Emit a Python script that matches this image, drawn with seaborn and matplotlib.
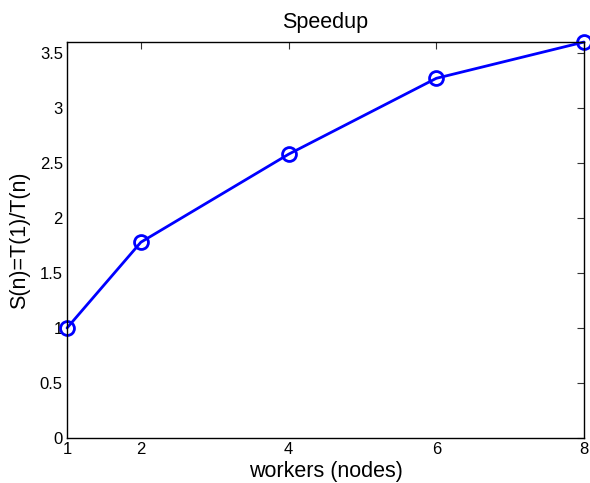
import matplotlib
matplotlib.use("Agg")
import matplotlib.pyplot as plt
import seaborn as sns
import pandas as pd

workers = [1, 2, 4, 6, 8]
speedup = [1.0, 1.78, 2.58, 3.27, 3.6]
x_ticks = [1, 2, 4, 6, 8]
y_ticks = [0, 0.5, 1, 1.5, 2, 2.5, 3, 3.5]
y_tick_labels = ["0", "0.5", "1", "1.5", "2", "2.5", "3", "3.5"]

sns.set_style("white")
plt.rcParams["font.family"] = ["Liberation Sans", "DejaVu Sans"]
plt.rcParams["text.color"] = "black"
plt.rcParams["axes.labelcolor"] = "black"
plt.rcParams["xtick.color"] = "black"
plt.rcParams["ytick.color"] = "black"

df = pd.DataFrame({"workers": workers, "speedup": speedup})

fig = plt.figure(figsize=(5.9, 4.83), dpi=100)
ax = fig.add_axes([0.1136, 0.0932, 0.8762, 0.8198])

sns.lineplot(data=df, x="workers", y="speedup", ax=ax, color="#0000ff",
             linewidth=2, marker="o", markersize=10, markerfacecolor="none",
             markeredgecolor="#0000ff", markeredgewidth=2)

ax.set_xlim(1, 8)
ax.set_ylim(0, 3.6)
ax.set_xticks(x_ticks)
ax.set_xticklabels([str(t) for t in x_ticks])
ax.set_yticks(y_ticks)
ax.set_yticklabels(y_tick_labels)

for s in ax.spines.values():
    s.set_visible(True)
    s.set_color("black")
    s.set_linewidth(1.0)

ax.tick_params(axis="both", direction="in", length=5, width=0.8, color="#333333",
               labelcolor="black", labelsize=12, top=True, right=True, pad=3)
ax.tick_params(axis="x", pad=3)

ax.set_xlabel("workers (nodes)", fontsize=15.5, labelpad=3, color="black")
ax.set_ylabel("S(n)=T(1)/T(n)", fontsize=15.5, labelpad=7, color="black")
ax.set_title("Speedup", fontsize=15.5, pad=10, color="black")

for line in ax.lines:
    line.set_clip_on(False)

fig.savefig("out.png", dpi=100)
